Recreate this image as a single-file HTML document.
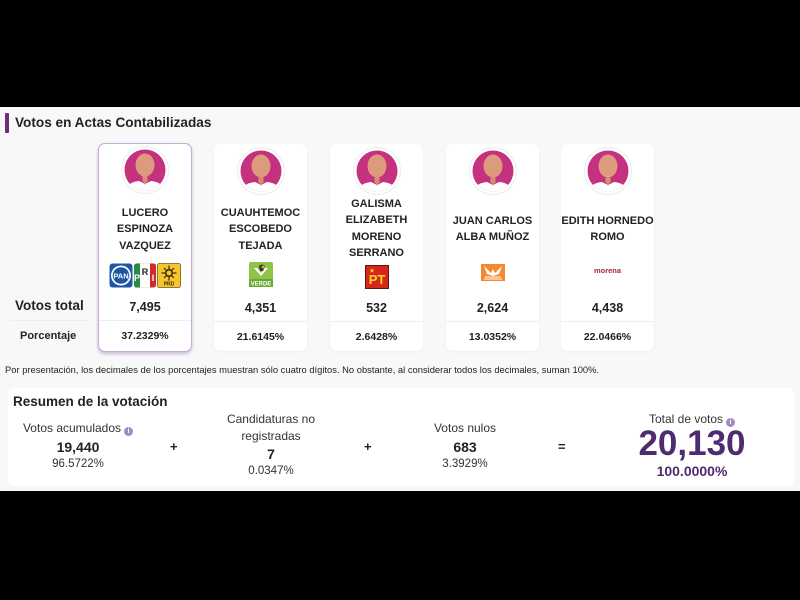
<!DOCTYPE html>
<html><head><meta charset="utf-8">
<style>
*{margin:0;padding:0;box-sizing:border-box}
html,body{width:800px;height:600px;overflow:hidden;background:#000;font-family:"Liberation Sans",Arial,sans-serif;color:#222}
#main{position:absolute;left:0;top:107px;width:800px;height:384px;background:#f8f8f8}
.abs{position:absolute}
.accent{left:5px;top:113px;width:4px;height:20px;background:#6b2f78;border-radius:1px}
.title{left:15px;top:113px;font-size:13.6px;font-weight:bold;color:#222;line-height:20px}
.card{position:absolute;top:144px;width:93px;height:207px;background:#fff;border-radius:7px;box-shadow:0 1px 3px rgba(0,0,0,0.04)}
.card.sel{top:143px;border:1.5px solid #c8a9d6;box-shadow:0 2px 3px rgba(120,70,150,0.35)}
.av{position:absolute;left:50%;top:3px;margin-left:-24px}
.sel .av{top:2px}
.name{position:absolute;left:0;width:100%;text-align:center;font-weight:bold;font-size:11px;line-height:16.3px;color:#222}
.num{position:absolute;left:0;width:100%;top:156px;text-align:center;font-weight:bold;font-size:12.5px;line-height:16px}
.sep{position:absolute;left:0;width:100%;top:177px;height:1px;background:#eee}
.pct{position:absolute;left:0;width:100%;top:186px;text-align:center;font-weight:bold;font-size:10.5px;line-height:14px}
.sel .num{top:155px}.sel .sep{top:176px}.sel .pct{top:185px}
.logo{position:absolute;left:50%}
.note{left:5px;top:364px;font-size:9.4px;color:#222;line-height:12px;white-space:nowrap}
.sum{left:8px;top:388px;width:786px;height:98px;background:#fff;border-radius:6px}
.c{position:absolute;text-align:center;white-space:nowrap}
.lbl{font-size:12px;color:#333;line-height:17px}
.big{font-size:14px;font-weight:bold;color:#222;line-height:18px}
.sm{font-size:11.5px;color:#333;line-height:16px}
.info{display:inline-block;width:9px;height:9px;border-radius:50%;background:#a888c4;vertical-align:-1px;margin-left:3px;color:#fff;font-size:7px;line-height:9px;font-weight:bold;text-align:center}
.op{position:absolute;font-size:13px;font-weight:bold;color:#222;line-height:14px}
</style></head><body>
<div id="main"></div>
<div class="abs accent"></div>
<div class="abs title">Votos en Actas Contabilizadas</div>

<div class="abs" style="left:15px;top:297px;font-size:13.5px;font-weight:bold;line-height:18px">Votos total</div>
<div class="abs" style="left:10px;top:320px;width:78px;height:1px;background:#eee"></div>
<div class="abs" style="left:20px;top:329px;font-size:11px;font-weight:bold;line-height:14px">Porcentaje</div>

<svg width="0" height="0" style="position:absolute">
<defs>
<clipPath id="cp"><circle cx="24" cy="24" r="20.5"/></clipPath>
<g id="avatar">
<circle cx="24" cy="24" r="23.5" fill="#fff" stroke="#ececec" stroke-width="1"/>
<circle cx="24" cy="24" r="20.5" fill="#c3317f"/>
<g clip-path="url(#cp)">
<rect x="21.5" y="26" width="5" height="10" fill="#d38f72"/>
<path d="M4 46 Q6 36 18 35 L24 38 L30 35 Q42 36 44 46 Z" fill="#fff"/>
<path d="M22 35 L24 39 L26 35 Z" fill="#d38f72"/>
<ellipse cx="24" cy="19" rx="9.5" ry="11.5" fill="#dd9a7c"/>
</g>
</g>
</defs>
</svg>

<!-- Card 1 -->
<div class="card sel" style="left:98px;width:94px;height:209px">
<svg class="av" width="48" height="48" viewBox="0 0 48 48"><use href="#avatar"/></svg>
<div class="name" style="top:61px">LUCERO<br>ESPINOZA<br>VAZQUEZ</div>
<div class="logo" style="top:119px;margin-left:-36px;width:72px;height:25px">
<svg width="72" height="25" viewBox="0 0 72 25">
<rect x="0.5" y="0.5" width="23" height="24" rx="3" fill="#1c56a5"/>
<ellipse cx="12" cy="12.5" rx="10" ry="10" fill="#fff"/>
<ellipse cx="12" cy="12.5" rx="8.3" ry="8.3" fill="#1c56a5"/>
<text x="12" y="15.5" font-family="Liberation Sans" font-size="7.5" font-weight="bold" fill="#fff" text-anchor="middle">PAN</text>
<rect x="25" y="0.5" width="22" height="24" rx="3" fill="#fff" stroke="#ddd" stroke-width="0.5"/>
<path d="M25 3 Q25 0.5 28 0.5 L31 0.5 L31 24.5 L28 24.5 Q25 24.5 25 22 Z" fill="#2a8a3f"/>
<path d="M41 0.5 L44 0.5 Q47 0.5 47 3 L47 22 Q47 24.5 44 24.5 L41 24.5 Z" fill="#d22a2a"/>
<text x="28" y="18" font-family="Liberation Sans" font-size="9" font-weight="bold" fill="#fff" text-anchor="middle">P</text>
<text x="36" y="12" font-family="Liberation Sans" font-size="9" font-weight="bold" fill="#222" text-anchor="middle">R</text>
<text x="44" y="18" font-family="Liberation Sans" font-size="9" font-weight="bold" fill="#fff" text-anchor="middle">I</text>
<rect x="48.5" y="0.5" width="23" height="24" rx="2" fill="#f5c52e" stroke="#6b5a1e" stroke-width="0.8"/>
<circle cx="60" cy="10" r="4" fill="#3a2a10"/>
<g stroke="#3a2a10" stroke-width="1.2">
<line x1="60" y1="2.5" x2="60" y2="17.5"/><line x1="52.5" y1="10" x2="67.5" y2="10"/>
<line x1="55" y1="5" x2="65" y2="15"/><line x1="65" y1="5" x2="55" y2="15"/>
</g>
<circle cx="60" cy="10" r="2.5" fill="#f5c52e"/>
<text x="60" y="22.5" font-family="Liberation Sans" font-size="5" font-weight="bold" fill="#3a2a10" text-anchor="middle">PRD</text>
</svg></div>
<div class="num">7,495</div>
<div class="sep"></div>
<div class="pct">37.2329%</div>
</div>

<!-- Card 2 -->
<div class="card" style="left:214px">
<svg class="av" width="48" height="48" viewBox="0 0 48 48"><use href="#avatar"/></svg>
<div class="name" style="top:61px">CUAUHTEMOC<br>ESCOBEDO<br>TEJADA</div>
<div class="logo" style="top:118px;margin-left:-12px">
<svg width="24" height="25" viewBox="0 0 24 25">
<rect x="0" y="0" width="24" height="25" rx="2" fill="#8ec449"/>
<path d="M5 6 L12 14 L19 6 L16 6 L12 11 L8 6 Z" fill="#fff"/>
<path d="M10 4 Q13 1 16 4 L14 9 L11 9 Z" fill="#2a3a1a"/>
<circle cx="14" cy="5" r="1.5" fill="#f2a12b"/>
<rect x="0" y="17" width="24" height="8" fill="#6aa834"/>
<text x="12" y="23.5" font-family="Liberation Sans" font-size="6" font-weight="bold" fill="#fff" text-anchor="middle">VERDE</text>
</svg></div>
<div class="num">4,351</div>
<div class="sep"></div>
<div class="pct">21.6145%</div>
</div>

<!-- Card 3 -->
<div class="card" style="left:330px">
<svg class="av" width="48" height="48" viewBox="0 0 48 48"><use href="#avatar"/></svg>
<div class="name" style="top:52px">GALISMA<br>ELIZABETH<br>MORENO<br>SERRANO</div>
<div class="logo" style="top:121px;margin-left:-12px">
<svg width="24" height="24" viewBox="0 0 24 24">
<rect x="0.5" y="0.5" width="23" height="23" fill="#d8261c" stroke="#5a1a10" stroke-width="1"/>
<text x="12" y="19" font-family="Liberation Sans" font-size="13" font-weight="bold" fill="#ffd52a" text-anchor="middle">PT</text>
<path d="M7 3 L7.6 4.8 L9.4 4.8 L8 5.9 L8.5 7.7 L7 6.6 L5.5 7.7 L6 5.9 L4.6 4.8 L6.4 4.8 Z" fill="#ffd52a"/>
</svg></div>
<div class="num">532</div>
<div class="sep"></div>
<div class="pct">2.6428%</div>
</div>

<!-- Card 4 -->
<div class="card" style="left:446px">
<svg class="av" width="48" height="48" viewBox="0 0 48 48"><use href="#avatar"/></svg>
<div class="name" style="top:69px">JUAN CARLOS<br>ALBA MUÑOZ</div>
<div class="logo" style="top:120px;margin-left:-12px">
<svg width="24" height="17" viewBox="0 0 24 17">
<rect x="0" y="0" width="24" height="17" fill="#f58a2c"/>
<path d="M3 2 L10 9 L12 5 L14 9 L21 2 L18 10 L12 12 L6 10 Z" fill="#fff"/>
<rect x="4" y="12.5" width="16" height="1" fill="#fff"/>
<rect x="3" y="14.5" width="18" height="1" fill="#fff"/>
</svg></div>
<div class="num">2,624</div>
<div class="sep"></div>
<div class="pct">13.0352%</div>
</div>

<!-- Card 5 -->
<div class="card" style="left:561px">
<svg class="av" width="48" height="48" viewBox="0 0 48 48"><use href="#avatar"/></svg>
<div class="name" style="top:69px">EDITH HORNEDO<br>ROMO</div>
<div class="abs" style="left:0;width:100%;top:122px;text-align:center;font-size:7.5px;font-weight:bold;color:#a3283c;line-height:9px">morena</div>
<div class="num">4,438</div>
<div class="sep"></div>
<div class="pct">22.0466%</div>
</div>

<div class="abs note">Por presentación, los decimales de los porcentajes muestran sólo cuatro dígitos. No obstante, al considerar todos los decimales, suman 100%.</div>

<div class="abs sum"></div>
<div class="abs" style="left:13px;top:393px;font-size:13.5px;font-weight:bold;line-height:18px">Resumen de la votación</div>

<div class="c lbl" style="left:5px;width:146px;top:420px">Votos acumulados<span class="info">i</span></div>
<div class="c big" style="left:28px;width:100px;top:438px">19,440</div>
<div class="c sm" style="left:28px;width:100px;top:456px">96.5722%</div>

<div class="op" style="left:170px;top:440px">+</div>

<div class="c lbl" style="left:211px;width:120px;top:411px">Candidaturas no</div>
<div class="c lbl" style="left:211px;width:120px;top:428px">registradas</div>
<div class="c big" style="left:211px;width:120px;top:445px">7</div>
<div class="c sm" style="left:211px;width:120px;top:463px">0.0347%</div>

<div class="op" style="left:364px;top:440px">+</div>

<div class="c lbl" style="left:405px;width:120px;top:420px">Votos nulos</div>
<div class="c big" style="left:405px;width:120px;top:438px">683</div>
<div class="c sm" style="left:405px;width:120px;top:456px">3.3929%</div>

<div class="op" style="left:558px;top:440px">=</div>

<div class="c lbl" style="left:622px;width:140px;top:411px">Total de votos<span class="info">i</span></div>
<div class="c" style="left:592px;width:200px;top:424px;font-size:35px;font-weight:bold;color:#4f2b70;line-height:40px">20,130</div>
<div class="c" style="left:592px;width:200px;top:463px;font-size:14px;font-weight:bold;color:#4f2b70;line-height:17px">100.0000%</div>
</body></html>
